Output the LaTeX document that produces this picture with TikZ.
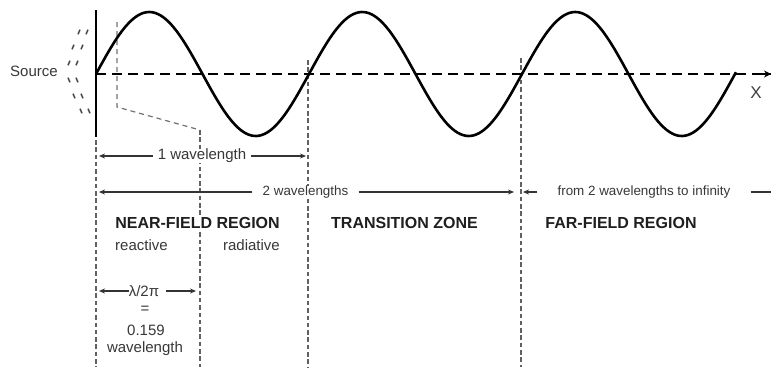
\documentclass[tikz,border=0pt]{standalone}
\usepackage{fontspec}
\setmainfont{Liberation Sans}
\usetikzlibrary{arrows.meta}
\begin{document}
\begin{tikzpicture}[x=1pt,y=-1pt,
  guide/.style={draw=black!62, line width=1.1pt, dash pattern=on 4.5pt off 2.8pt},
  guideb/.style={draw=black!55, line width=1.2pt, dash pattern=on 5pt off 4pt},
  lab/.style={text=black!78, font=\fontsize{15}{18}\selectfont, inner sep=0pt, fill=white},
  labs/.style={text=black!78, font=\fontsize{13.4}{16}\selectfont, inner sep=0pt, fill=white},
  title/.style={text=black!88, font=\bfseries\fontsize{16}{19}\selectfont, inner sep=0pt, fill=white},
  arr/.style={draw=black!80, line width=1.2pt, -{Stealth[length=6pt,width=5pt]}},
  plainline/.style={draw=black!80, line width=1.2pt},
  wave/.style={draw=black, line width=2.6pt},
  axis/.style={draw=black, line width=2.6pt, dash pattern=on 10pt off 6pt},
  tick/.style={draw=black!72, line width=1.5pt}
]
\fill[white] (0,0) rectangle (771,367);
\useasboundingbox (0,0) rectangle (771,367);

% vertical guide lines
\coordinate (g0t) at (96,140);  \coordinate (g0b) at (96,367);
\coordinate (g1t) at (200,130); \coordinate (g1b) at (200,367);
\coordinate (g2t) at (308,60);  \coordinate (g2b) at (308,367);
\coordinate (g3t) at (521,58);  \coordinate (g3b) at (521,367);
\coordinate (k1) at (117,22);   \coordinate (k2) at (117,107);
\draw[guide] (g0t) -- (g0b);
\draw[guide] (g1t) -- (g1b);
\draw[guide] (g2t) -- (g2b);
\draw[guide] (g3t) -- (g3b);
\draw[guideb] (k1) -- (k2) -- (g1t);

% source
\coordinate (srcT) at (96,10);
\coordinate (srcB) at (96,137);
\draw[line width=2.6pt] (srcT) -- (srcB);
\foreach \x/\y in {79/32,87/32,73/47,82/47,69/63,77/63}
  \draw[tick] (\x+1,\y-2.3) -- (\x-1,\y+2.3);
\foreach \x/\y in {69/80,77/80,74/96,82/96,81/111,89/111}
  \draw[tick] (\x-1,\y-2.3) -- (\x+1,\y+2.3);
\node[lab] (source) at (34,71) {Source};

% wave and axis
\coordinate (o) at (96,74);
\coordinate (xend) at (771,74);
\draw[wave] plot[domain=0:640, samples=240, smooth] ({96+\x},{74-62*sin(\x/213*360)});
\draw[axis] (o) -- (xend);
\draw[black, line width=2pt, -{Stealth[length=7pt,width=7pt]}] (760,74) -- (xend);
\node[text=black!75, font=\fontsize{17}{20}\selectfont, inner sep=0pt] (xlab) at (756,93) {X};

% 1 wavelength
\coordinate (a1L) at (99,156); \coordinate (a1R) at (306,156);
\node[lab, inner xsep=5pt] (w1) at (202,156) {1 wavelength};
\draw[arr] (w1.west) -- (a1L);
\draw[arr] (w1.east) -- (a1R);

% 2 wavelengths
\coordinate (a2L) at (99,192); \coordinate (a2R) at (514,192);
\node[labs, inner xsep=10pt] (w2) at (305.5,192) {2 wavelengths};
\draw[arr] (w2.west) -- (a2L);
\draw[arr] (w2.east) -- (a2R);

% from 2 wavelengths to infinity
\coordinate (a3L) at (523,192); \coordinate (a3R) at (771,192);
\node[labs, inner xsep=20pt] (w3) at (644,192) {from 2 wavelengths to infinity};
\draw[arr] (w3.west) -- (a3L);
\draw[plainline] (w3.east) -- (a3R);

% region titles
\node[title] (nf) at (197.5,223) {NEAR-FIELD REGION};
\node[title] (tz) at (404.5,223) {TRANSITION ZONE};
\node[title] (ff) at (621,223) {FAR-FIELD REGION};
\node[lab] (reac) at (141.5,245) {reactive};
\node[lab] (rad) at (251.5,245) {radiative};

% lambda / 2 pi
\coordinate (lL) at (99,291); \coordinate (lR) at (196,291);
\node[lab, inner xsep=0pt] (lam) at (144,291) {λ/2π};
\draw[arr] (lam.west) -- (lL);
\draw[arr, shorten <=7pt] (lam.east) -- (lR);
\node[lab] (eq) at (145,310) {=};
\node[lab] (num) at (146,330) {0.159};
\node[lab] (wl) at (145,349) {wavelength};
\end{tikzpicture}
\end{document}
